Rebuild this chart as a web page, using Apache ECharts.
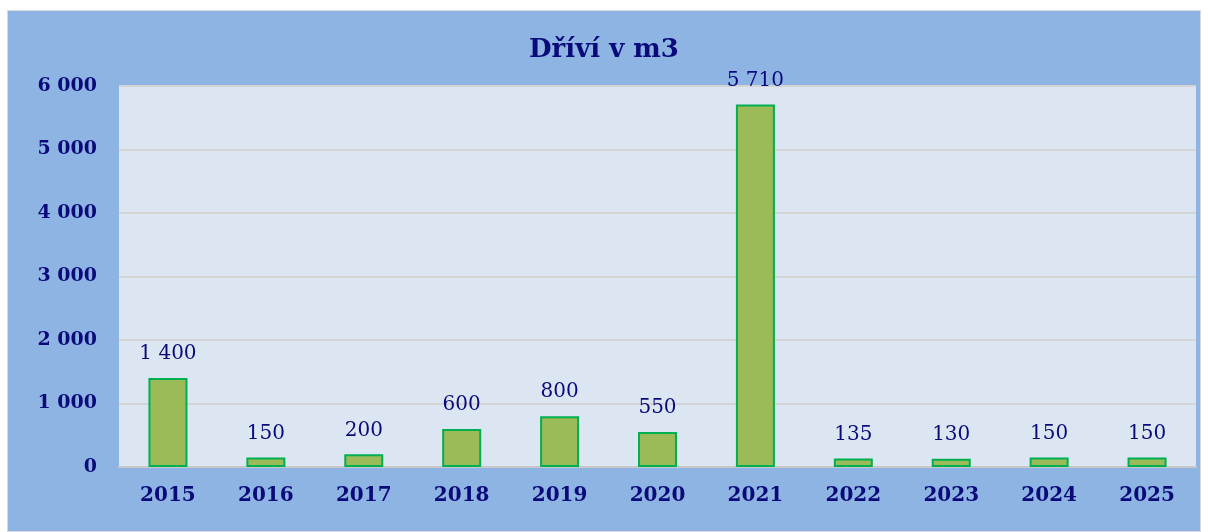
<!DOCTYPE html>
<html>
<head>
<meta charset="utf-8">
<script src="https://cdn.jsdelivr.net/npm/echarts@6/dist/echarts.min.js"></script>
<style>
  html, body { margin: 0; padding: 0; background: #fff; }
  #main { position: absolute; left: 7px; top: 10px; width: 1194px; height: 522px;
          border: 1px solid #d9d9d9; box-sizing: border-box; }
</style>
</head>
<body>
<div id="main"></div>
<script>
const years = ['2015', '2016', '2017', '2018', '2019', '2020', '2021', '2022', '2023', '2024', '2025'];
const volumes = [1400, 150, 200, 600, 800, 550, 5710, 135, 130, 150, 150];
const titleText = 'Dříví v m3';

const navy = '#0a0a7a';
const font = '"DejaVu Serif", "Liberation Serif", serif';
const fmt = v => String(v).replace(/\B(?=(\d{3})+(?!\d))/g, ' ');

const chart = echarts.init(document.getElementById('main'));
chart.setOption({
  backgroundColor: '#8eb4e3',
  textStyle: { fontFamily: font },
  title: {
    text: titleText,
    left: 'center',
    top: 21,
    textStyle: { color: navy, fontSize: 26, fontWeight: 'bold', fontFamily: font }
  },
  grid: {
    left: 111, top: 75, right: 4, bottom: 64,
    show: true, backgroundColor: '#dce6f2', borderWidth: 0
  },
  xAxis: {
    type: 'category',
    data: years,
    axisTick: { show: false },
    axisLine: { lineStyle: { color: '#c8c8c8', width: 2 } },
    axisLabel: { color: navy, fontSize: 20, fontWeight: 'bold', margin: 19, fontFamily: font }
  },
  yAxis: {
    type: 'value',
    min: 0, max: 6000, interval: 1000,
    axisLine: { show: false },
    axisTick: { show: false },
    splitLine: { lineStyle: { color: '#d4d4d4', width: 2 } },
    axisLabel: { color: navy, fontSize: 19, fontWeight: 'bold', margin: 22, fontFamily: font,
                 formatter: fmt }
  },
  series: [{
    type: 'bar',
    data: volumes,
    barWidth: 39,
    itemStyle: { color: '#9bbb59', borderColor: '#00b050', borderWidth: 2 },
    label: {
      show: true, position: 'top', distance: 14,
      color: navy, fontSize: 20, fontFamily: font,
      formatter: p => fmt(p.value)
    }
  }]
});
</script>
</body>
</html>
